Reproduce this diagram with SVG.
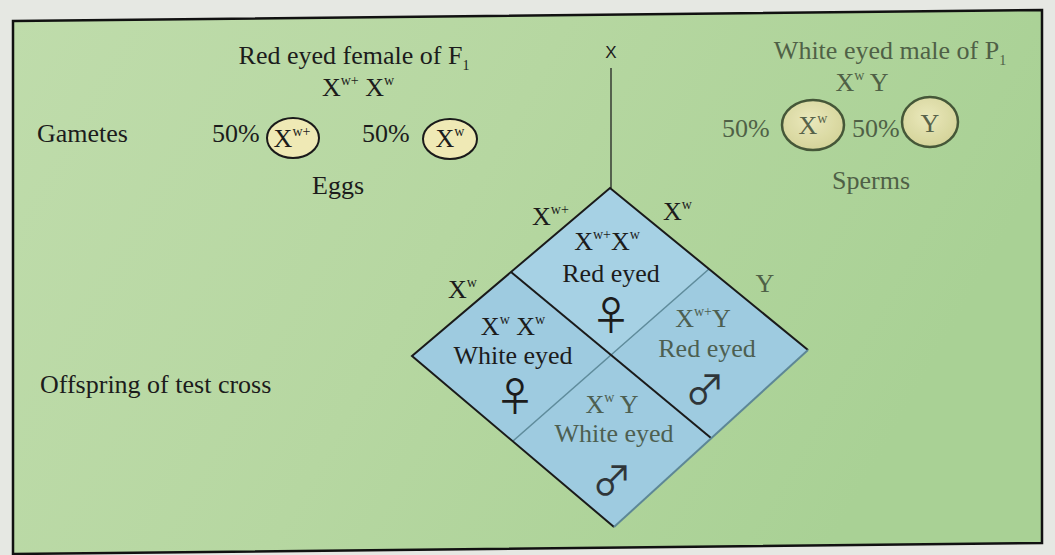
<svg xmlns="http://www.w3.org/2000/svg" width="1055" height="555" viewBox="0 0 1055 555">
<defs>
<linearGradient id="bg" x1="0" y1="0" x2="1" y2="0.3">
<stop offset="0" stop-color="#bfdcab"/>
<stop offset="0.5" stop-color="#b6d7a1"/>
<stop offset="1" stop-color="#a9d195"/>
</linearGradient>
<radialGradient id="mg" cx="0.45" cy="0.4" r="0.6">
<stop offset="0" stop-color="#f1ebc0"/>
<stop offset="1" stop-color="#d9d49a"/>
</radialGradient>
<style>
.t{font-family:"Liberation Serif","Times New Roman",serif;font-size:26px;fill:#1c1c1c}
.g{fill:#3f4d38;opacity:.85}
.s{font-size:14px}
.sym{font-family:"Noto Sans CJK JP","DejaVu Sans",sans-serif;font-size:40px;fill:#1c1c1c}
.m{text-anchor:middle}
.edge{fill:none;stroke:#1a1a1a;stroke-width:2}
.fc{fill:#efe9b5;stroke:#1a1a1a;stroke-width:2}
.mc{fill:url(#mg);stroke:#3a4a2e;stroke-width:2.5;opacity:.9}
</style>
</defs>
<rect x="0" y="0" width="1055" height="555" fill="#e6e8e3"/>
<polygon points="13,21 1042,10 1042,543 13,554" fill="url(#bg)" stroke="#111" stroke-width="2.5"/>

<g id="female">
<text class="t m" x="354" y="64">Red eyed female of F<tspan class="s" dy="6">1</tspan></text>
<text class="t m" x="358" y="96">X<tspan class="s" dy="-11">w+</tspan><tspan dy="11"> X</tspan><tspan class="s" dy="-11">w</tspan></text>
<text class="t" x="37" y="142">Gametes</text>
<text class="t" x="212" y="142">50%</text>
<ellipse class="fc" cx="293" cy="138" rx="26" ry="20"/>
<text class="t m" x="292" y="147">X<tspan class="s" dy="-11">w+</tspan></text>
<text class="t" x="362" y="142">50%</text>
<ellipse class="fc" cx="450" cy="139" rx="27" ry="20"/>
<text class="t m" x="450" y="147">X<tspan class="s" dy="-11">w</tspan></text>
<text class="t m" x="338" y="194">Eggs</text>
</g>

<g id="male">
<text class="t g m" x="890" y="59">White eyed male of P<tspan class="s" dy="6">1</tspan></text>
<text class="t g m" x="862" y="91">X<tspan class="s" dy="-11">w</tspan><tspan dy="11"> Y</tspan></text>
<text class="t g" x="722" y="137">50%</text>
<ellipse class="mc" cx="813" cy="125" rx="31" ry="25"/>
<text class="t g m" x="813" y="134">X<tspan class="s" dy="-11">w</tspan></text>
<text class="t g" x="852" y="137">50%</text>
<ellipse class="mc" cx="930" cy="122" rx="28" ry="25"/>
<text class="t g m" x="930" y="132">Y</text>
<text class="t g m" x="871" y="189">Sperms</text>
</g>

<g id="cross">
<text x="611" y="58" text-anchor="middle" style="font-family:'Liberation Sans',Arial,sans-serif;font-size:17px;fill:#1c1c1c">X</text>
</g>

<g id="connectors">
<line x1="611" y1="68" x2="611" y2="188" stroke="#222" stroke-width="1.3"/>
</g>

<g id="punnett">
<polygon points="610,188 808,350 614,527 412,356" fill="#9ecbe0"/>
<polygon points="610,188 709,269 611,357 511,272" fill="#a6d1e4"/>
<line x1="709" y1="269" x2="513" y2="441" stroke="#5f8c9c" stroke-width="1.6"/>
<line x1="511" y1="272" x2="711" y2="438" stroke="#1a1a1a" stroke-width="2"/>
<polyline class="edge" points="808,350 610,188 412,356 614,527"/>
<line x1="808" y1="350" x2="614" y2="527" stroke="#5d8796" stroke-width="2"/>
</g>

<g id="labels">
<text class="t" x="532" y="225">X<tspan class="s" dy="-11">w+</tspan></text>
<text class="t" x="663" y="220">X<tspan class="s" dy="-11">w</tspan></text>
<text class="t" x="448" y="298">X<tspan class="s" dy="-11">w</tspan></text>
<text class="t g m" x="765" y="292">Y</text>
</g>

<g id="cell-top">
<text class="t m" x="607" y="250">X<tspan class="s" dy="-11">w+</tspan><tspan dy="11">X</tspan><tspan class="s" dy="-11">w</tspan></text>
<text class="t m" x="611" y="282">Red eyed</text>
<text class="sym m" x="611" y="330">♀</text>
</g>

<g id="cell-left">
<text class="t m" x="513" y="335">X<tspan class="s" dy="-11">w</tspan><tspan dy="11"> X</tspan><tspan class="s" dy="-11">w</tspan></text>
<text class="t m" x="513" y="364">White eyed</text>
<text class="sym m" x="515" y="411">♀</text>
</g>

<g id="cell-right">
<text class="t g m" x="703" y="327">X<tspan class="s" dy="-11">w+</tspan><tspan dy="11">Y</tspan></text>
<text class="t g m" x="707" y="357">Red eyed</text>
<text class="sym g m" x="705" y="404">♂</text>
</g>

<g id="cell-bottom">
<text class="t g m" x="612" y="413">X<tspan class="s" dy="-11">w</tspan><tspan dy="11"> Y</tspan></text>
<text class="t g m" x="614" y="442">White eyed</text>
<text class="sym g m" x="612" y="495">♂</text>
</g>

<g id="offspring">
<text class="t" x="40" y="393">Offspring of test cross</text>
</g>
</svg>
